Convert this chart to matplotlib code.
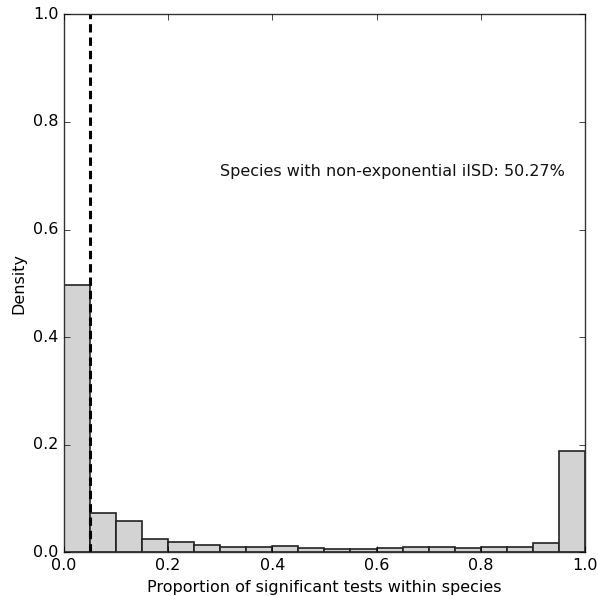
import matplotlib

matplotlib.use("Agg")

import matplotlib.pyplot as plt
import numpy as np

# histogram bins (20 equal bins on [0, 1]) and bar heights
bin_edges = np.linspace(0.0, 1.0, 21)
heights = [0.497, 0.074, 0.059, 0.025, 0.020, 0.014, 0.011, 0.011, 0.012, 0.008,
           0.006, 0.006, 0.008, 0.011, 0.011, 0.008, 0.011, 0.010, 0.017, 0.188]
threshold = 0.05
note = "Species with non-exponential iISD: 50.27%"

plt.style.use("classic")
plt.rcParams["font.family"] = "DejaVu Sans"
plt.rcParams["lines.scale_dashes"] = False

fig = plt.figure(figsize=(5.98, 5.96), dpi=100, facecolor="white")
ax = fig.add_axes([0.107, 0.073, 0.871, 0.903])

ax.hist(bin_edges[:-1], bins=bin_edges, weights=heights,
        color="#d3d3d3", edgecolor="#222222", linewidth=1.2)
ax.axvline(threshold, color="black", linestyle="--", linewidth=2.2, dashes=(6, 3.6))
ax.text(0.3, 0.707, note, fontsize=11.5, va="center", ha="left", color="#111111")

ax.set_xlim(0, 1)
ax.set_ylim(0, 1)
ax.set_xticks(np.arange(0, 1.01, 0.2))
ax.set_yticks(np.arange(0, 1.01, 0.2))
ax.tick_params(labelsize=11.5)
ax.set_xlabel("Proportion of significant tests within species", fontsize=11.5)
ax.set_ylabel("Density", fontsize=11.5)
for s in ax.spines.values():
    s.set_color("#333333")

fig.savefig("out.png", dpi=100, facecolor="white")
